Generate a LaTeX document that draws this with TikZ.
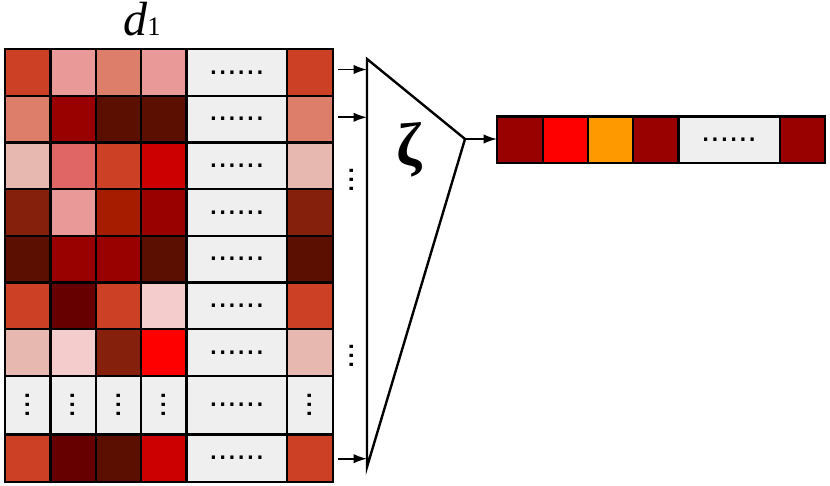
\documentclass[tikz,border=0pt]{standalone}
\usepackage{fontspec}
\usetikzlibrary{arrows.meta}
\newfontfamily\dotfont{Liberation Sans}
\newfontfamily\timesfont{Liberation Serif}
\definecolor{redberry}{HTML}{CC4125}
\definecolor{lberryA}{HTML}{DD7E6B}
\definecolor{lberryB}{HTML}{E6B8AF}
\definecolor{lredA}{HTML}{E06666}
\definecolor{lredB}{HTML}{EA9999}
\definecolor{lredC}{HTML}{F4CCCC}
\definecolor{dredA}{HTML}{CC0000}
\definecolor{dredB}{HTML}{990000}
\definecolor{dredC}{HTML}{660000}
\definecolor{dberryA}{HTML}{A61C00}
\definecolor{dberryB}{HTML}{85200C}
\definecolor{dberryC}{HTML}{5B0F00}
\definecolor{purered}{HTML}{FF0000}
\definecolor{pureorange}{HTML}{FF9900}
\definecolor{greyC}{HTML}{EFEFEF}
\tikzset{every picture/.style={line width=1.8pt}}
\tikzset{
  cell/.style={draw=black, line width=1.8pt},
  hdots/.style={inner sep=0pt, font={\dotfont\fontsize{25}{25}\selectfont}},
  vdotsbox/.style={inner sep=0pt, rotate=90, font={\dotfont\fontsize{25}{25}\selectfont}},
  arr/.style={line width=1.3pt, -{Latex[length=10pt,width=7pt]}}
}

\begin{document}
\begin{tikzpicture}[x=0.75pt,y=0.75pt,yscale=-1,xscale=1]
\useasboundingbox (0,0) rectangle (830,485);
% input matrix
\foreach \r/\ya/\yb/\ca/\cb/\cc/\cd in {
  1/49/95.7/redberry/lredB/lberryA/lredB,
  2/95.7/142.3/lberryA/dredB/dberryC/dberryC,
  3/142.3/189/lberryB/lredA/redberry/dredA,
  4/189/235.7/dberryB/lredB/dberryA/dredB,
  5/235.7/282.3/dberryC/dredB/dredB/dberryC,
  6/282.3/329/redberry/dredC/redberry/lredC,
  7/329/375.7/lberryB/lredC/dberryB/purered,
  9/434.3/481.7/redberry/dredC/dberryC/dredA}
{
  \draw[cell, fill=\ca] (5,\ya) rectangle (50.3,\yb);
  \draw[cell, fill=\cb] (50.3,\ya) rectangle (95.7,\yb);
  \draw[cell, fill=\cc] (95.7,\ya) rectangle (141,\yb);
  \draw[cell, fill=\cd] (141,\ya) rectangle (186.3,\yb);
  \draw[cell, fill=greyC] (186.3,\ya) rectangle (287,\yb);
  \draw[cell, fill=\ca] (287,\ya) rectangle (333,\yb);
  \node[hdots] (dots-\r) at (236.7,{(\ya+\yb)/2}) {......};
}
% row of vertical dots
\foreach \c/\xa/\xb in {1/5/50.3, 2/50.3/95.7, 3/95.7/141, 4/141/186.3, 6/287/333}
{
  \draw[cell, fill=greyC] (\xa,375.7) rectangle (\xb,434.3);
  \node[vdotsbox] (vd-\c) at ({(\xa+\xb)/2},405) {...};
}
\draw[cell, fill=greyC] (186.3,375.7) rectangle (287,434.3);
\node[hdots] (dots-8) at (236.7,405) {......};
\node[anchor=base, inner sep=0pt] (dlab) at (142,36) {\timesfont\fontsize{36}{36}\selectfont\itshape d\upshape\fontsize{20}{20}\selectfont 1};

% the map zeta
\coordinate (zt) at (367,59);
\coordinate (ztip) at (465,139);
\coordinate (zb) at (367,467);
\draw[line width=1.8pt, line join=miter] (zt) -- (ztip) -- (zb) -- cycle;
\node[inner sep=0pt] (zeta) at (409,150) {\timesfont\bfseries\fontsize{46}{46}\selectfont ζ};
\coordinate (a1) at (338,69.5);
\coordinate (a2) at (338,117.3);
\coordinate (a3) at (338,458.7);
\draw[arr] (a1) -- (a1 -| zt);
\draw[arr] (a2) -- (a2 -| zt);
\draw[arr] (a3) -- (a3 -| zt);
\node[vdotsbox] (vz-1) at (352,180) {...};
\node[vdotsbox] (vz-2) at (352,356) {...};

% output vector
\foreach \c/\xa/\xb/\cf in {1/497/542.7/dredB, 2/542.7/587.7/purered, 3/587.7/632.7/pureorange, 4/632.7/678.3/dredB, 5/678.3/780/greyC, 6/780/825/dredB}
{
  \draw[cell, fill=\cf] (\xa,116.5) rectangle (\xb,163);
}
\node[hdots] (dots-out) at (729,140) {......};
\coordinate (outin) at (497,139);
\draw[arr] (ztip) -- (outin);
\end{tikzpicture}
\end{document}
